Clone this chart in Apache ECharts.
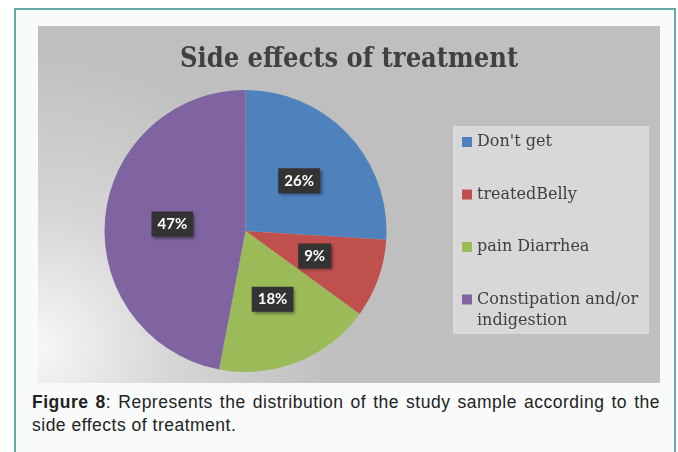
<!DOCTYPE html>
<html>
<head>
<meta charset="utf-8">
<script src="https://cdn.jsdelivr.net/npm/echarts@6/dist/echarts.min.js"></script>
<style>
    html, body { margin: 0; padding: 0; background: #fff; }
    body { width: 678px; height: 452px; position: relative; overflow: hidden; }
    .frame {
        position: absolute; left: 14px; top: 8px; width: 658px; height: 470px;
        border: 2px solid #68a9a7; border-bottom: none; background: #f9fbfb;
    }
    #chart {
        position: absolute; left: 38px; top: 26px; width: 622px; height: 357px;
        background: radial-gradient(ellipse 300px 300px at 0% 90%, #f7f7f7 0%, #d6d6d6 45%, #bfbfbf 100%);
    }
    .caption {
        position: absolute; left: 32px; top: 391px; width: 628px;
        font-family: "Liberation Sans", Arial, sans-serif; font-size: 17.5px; line-height: 23px;
        letter-spacing: 0.5px; color: #222; text-align: justify;
    }
</style>
</head>
<body>
<div class="frame"></div>
<div id="chart"></div>
<div class="caption"><b>Figure 8</b>: Represents the distribution of the study sample according to the side effects of treatment.</div>
<script>
    // data
    const titleText = 'Side effects of treatment'
    const categories = ["Don't get", 'treatedBelly', 'pain Diarrhea', 'Constipation and/or indigestion']
    const values = [26, 9, 18, 47]
    const colors = ['#4f81bd', '#c0504d', '#9bbb59', '#8064a2']

    // legend item tops (one legend per item so the gaps match)
    const legendTops = [105.5, 158, 210.5, 242]

    const chartDom = document.getElementById('chart')
    const myChart = echarts.init(chartDom, null, {renderer: 'canvas'})

    const serif = '"DejaVu Serif Condensed", "DejaVu Serif", serif'

    let option = {
        animation: false,
        backgroundColor: 'transparent',
        title: {
            text: titleText,
            left: 'center',
            top: 15,
            textStyle: {
                fontFamily: serif,
                fontSize: 27,
                fontWeight: 'bold',
                color: '#404040'
            }
        },
        graphic: [
            {
                type: 'rect',
                left: 415,
                top: 100,
                z: 0,
                shape: {width: 196, height: 208},
                style: {fill: '#d8d8d8'}
            }
        ],
        legend: categories.map(function (name, i) {
            return {
                data: [name],
                orient: 'vertical',
                left: 424,
                top: legendTops[i],
                padding: 0,
                icon: 'rect',
                itemWidth: 10,
                itemHeight: 10,
                selectedMode: false,
                formatter: function (n) {
                    if (n === 'Constipation and/or indigestion') {
                        return '\nConstipation and/or\nindigestion'
                    }
                    return n
                },
                textStyle: {
                    fontFamily: '"DejaVu Serif", serif',
                    fontSize: 16,
                    lineHeight: 21,
                    color: '#404040'
                }
            }
        }),
        series: [
            {
                type: 'pie',
                center: [207.5, 205],
                radius: 141,
                startAngle: 90,
                clockwise: true,
                emphasis: {disabled: true},
                data: categories.map(function (name, i) {
                    return {name: name, value: values[i], itemStyle: {color: colors[i]}}
                }),
                label: {
                    show: true,
                    position: 'inside',
                    formatter: '{c}%',
                    color: '#fff',
                    fontFamily: 'Lato, "Open Sans", sans-serif',
                    fontWeight: 'bold',
                    fontSize: 15,
                    backgroundColor: '#333333',
                    padding: [5, 6, 5, 6],
                    shadowColor: 'rgba(0,0,0,0.45)',
                    shadowBlur: 3,
                    shadowOffsetX: 2,
                    shadowOffsetY: 2
                },
                labelLine: {show: false}
            }
        ]
    }

    option && myChart.setOption(option)
</script>
</body>
</html>
